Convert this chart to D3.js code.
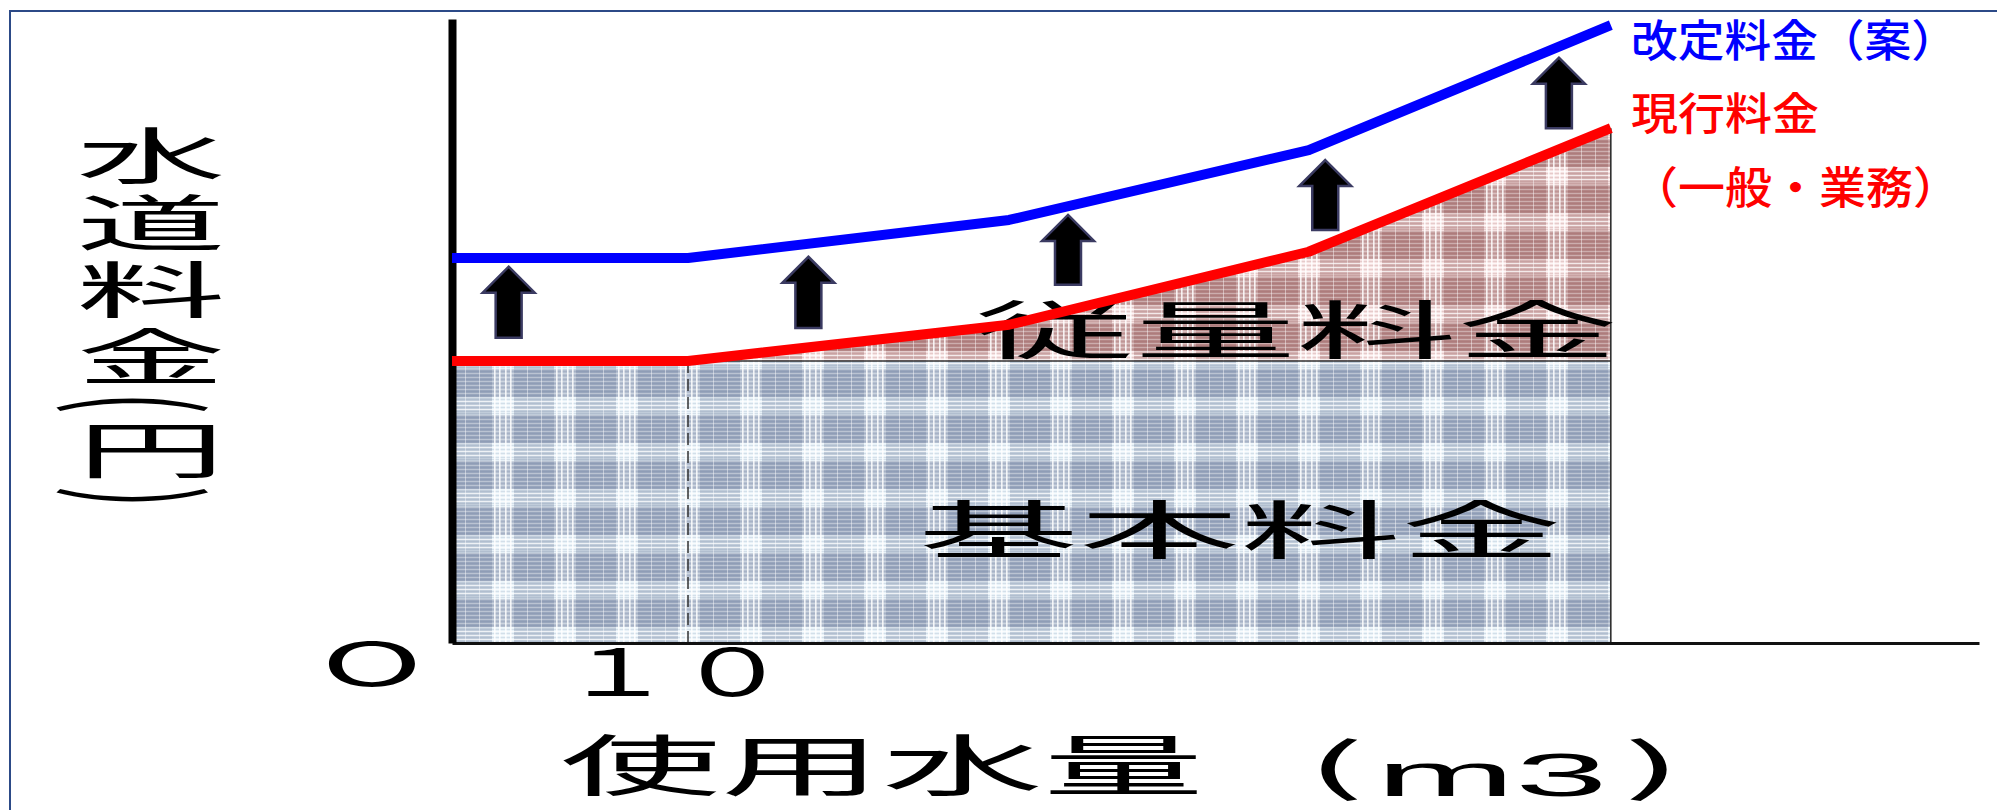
<!DOCTYPE html>
<html>
<head>
<meta charset="utf-8">
<script src="https://cdn.jsdelivr.net/npm/d3@7"></script>
<style>
  html, body { margin: 0; padding: 0; background: #fff; }
  svg { display: block; font-family: "Noto Sans CJK JP", "Noto Sans", sans-serif; }
</style>
</head>
<body>
<div id="chart"></div>
<script>
// break points of the tariff (usage in m3, charge in arbitrary yen units)
const usage = [0, 10, 23.6, 36.3, 49.1];
const currentFee = [452, 452, 510, 627, 825];
const proposedFee = [617, 617, 678, 790, 990];
const basicFee = 452;
const basicUsage = 10;

// the up-arrows between the two lines
const arrowUsage = [2.4, 15.1, 26.1, 37.0, 46.9];
const arrowFrom = [489, 505, 574, 662, 825];
const arrowTo = [603, 619, 686, 774, 938];

const xTickValues = [0, 10];
const xTickLabels = ["O", "１０"];
const yTitle = "水道料金(円)";
const xTitle = "使用水量";
const xUnit = ["(", "m3", ")"];
const seriesNames = ["改定料金（案）", "現行料金", "（一般・業務）"];
const areaLabels = ["従量料金", "基本料金"];

const width = 1997, height = 810;

const x = d3.scaleLinear().domain([0, 64.7]).range([452, 1979]);
const y = d3.scaleLinear().domain([0, 1000]).range([643, 19]);

const svg = d3.select("#chart").append("svg")
  .attr("width", width)
  .attr("height", height);

// frame
svg.append("rect")
  .attr("x", 10).attr("y", 11)
  .attr("width", width + 20).attr("height", height + 20)
  .attr("fill", "#fff")
  .attr("stroke", "#2c4a87")
  .attr("stroke-width", 2);

const defs = svg.append("defs");

function plaid(id, base, band, k) {
  const w = 62, h = 46;
  const p = defs.append("pattern")
    .attr("id", id)
    .attr("patternUnits", "userSpaceOnUse")
    .attr("width", w).attr("height", h)
    .attr("x", x(0)).attr("y", y(0));
  p.append("rect").attr("width", w).attr("height", h).attr("fill", base);
  p.append("rect").attr("width", 40).attr("height", h).attr("fill", band).attr("opacity", 0.26 * k);
  p.append("rect").attr("y", 2).attr("width", w).attr("height", 28).attr("fill", band).attr("opacity", 0.34 * k);
  d3.range(0, h, 2).forEach(v => {
    p.append("rect").attr("y", v).attr("width", w).attr("height", 0.8)
      .attr("fill", v % 4 ? "#fff" : band).attr("opacity", v % 4 ? 0.4 : 0.16 * k);
  });
  [34, 38, 42].forEach(v => {
    p.append("rect").attr("y", v).attr("width", w).attr("height", 1).attr("fill", "#fff").attr("opacity", 0.6);
  });
  [42, 47, 53, 58].forEach(v => {
    p.append("rect").attr("x", v).attr("width", 1.6).attr("height", h).attr("fill", "#fff").attr("opacity", 0.85);
  });
  [13, 27].forEach(v => {
    p.append("rect").attr("x", v).attr("width", 1).attr("height", h).attr("fill", "#fff").attr("opacity", 0.45);
  });
}
plaid("plaidBlue", "#e8f2f8", "#4e5f84", 1);
plaid("plaidPink", "#f6e2e2", "#7e3c3c", 1.1);

const pts = usage.map((u, i) => ({ u, cur: currentFee[i], pro: proposedFee[i] }));
const lastU = usage[usage.length - 1];

// basic charge block
svg.append("rect")
  .attr("x", x(0))
  .attr("y", y(basicFee))
  .attr("width", x(lastU) - x(0))
  .attr("height", y(0) - y(basicFee))
  .attr("fill", "url(#plaidBlue)");

// volume charge area
svg.append("path")
  .datum(pts)
  .attr("fill", "url(#plaidPink)")
  .attr("d", d3.area().x(d => x(d.u)).y0(y(basicFee)).y1(d => y(d.cur)));

// outlines of the blocks
svg.append("line")
  .attr("x1", x(0)).attr("x2", x(lastU))
  .attr("y1", y(basicFee)).attr("y2", y(basicFee))
  .attr("stroke", "#333").attr("stroke-width", 1.5);
svg.append("line")
  .attr("x1", x(lastU)).attr("x2", x(lastU))
  .attr("y1", y(currentFee[currentFee.length - 1])).attr("y2", y(0))
  .attr("stroke", "#222").attr("stroke-width", 1.5);
svg.append("line")
  .attr("x1", x(basicUsage)).attr("x2", x(basicUsage))
  .attr("y1", y(basicFee)).attr("y2", y(0))
  .attr("stroke", "#333").attr("stroke-width", 1.5)
  .attr("stroke-dasharray", "12,6");

// axes
const xAxis = svg.append("g")
  .attr("transform", `translate(0,${y(0)})`)
  .call(d3.axisBottom(x).tickValues([]).tickSizeOuter(0));
xAxis.select(".domain").attr("stroke", "#111").attr("stroke-width", 3);

const yAxis = svg.append("g")
  .attr("transform", `translate(${x(0)},0)`)
  .call(d3.axisLeft(y).tickValues([]).tickSizeOuter(0));
yAxis.select(".domain").attr("stroke", "#000").attr("stroke-width", 8);

// stretched text helper
function stretchText(str, o) {
  return svg.append("text")
    .attr("x", o.x).attr("y", o.y)
    .attr("font-size", o.size)
    .attr("font-weight", o.weight || 400)
    .attr("font-family", o.family || null)
    .attr("text-anchor", o.anchor || "middle")
    .attr("textLength", o.len)
    .attr("lengthAdjust", "spacingAndGlyphs")
    .attr("fill", o.fill || "#000")
    .text(str);
}

// area labels
stretchText(areaLabels[0], { x: 1296, y: 353, size: 63, len: 644 });
stretchText(areaLabels[1], { x: 1240, y: 553, size: 63, len: 644 });

// lines
const line = key => d3.line().x(d => x(d.u)).y(d => y(d[key]));
svg.append("path")
  .datum(pts)
  .attr("fill", "none")
  .attr("stroke", "#ff0000")
  .attr("stroke-width", 10)
  .attr("stroke-linejoin", "round")
  .attr("d", line("cur"));
svg.append("path")
  .datum(pts)
  .attr("fill", "none")
  .attr("stroke", "#0000ff")
  .attr("stroke-width", 10)
  .attr("stroke-linejoin", "round")
  .attr("d", line("pro"));

// arrows
const arrows = arrowUsage.map((u, i) => ({ u, from: arrowFrom[i], to: arrowTo[i] }));
svg.append("g").selectAll("path")
  .data(arrows)
  .join("path")
  .attr("fill", "#000")
  .attr("stroke", "#3b3b62")
  .attr("stroke-width", 2.5)
  .attr("d", d => {
    const cx = x(d.u), top = y(d.to), bot = y(d.from);
    const hw = 26, sw = 13, hh = 26;
    return `M${cx},${top}L${cx + hw},${top + hh}L${cx + sw},${top + hh}L${cx + sw},${bot}` +
      `L${cx - sw},${bot}L${cx - sw},${top + hh}L${cx - hw},${top + hh}Z`;
  });

// x tick labels
stretchText(xTickLabels[0], { x: x(xTickValues[0]) - 80, y: 686, size: 60, len: 102 });
stretchText(xTickLabels[1], { x: x(xTickValues[1]) - 13, y: 696, size: 65, len: 230 });

// x title
stretchText(xTitle, { x: 882, y: 790, size: 66, len: 644 });
stretchText(xUnit[0], { x: 1335, y: 789, size: 62, len: 60 });
stretchText(xUnit[1], { x: 1492, y: 796, size: 62, len: 232, family: "Liberation Sans, sans-serif" });
stretchText(xUnit[2], { x: 1653, y: 789, size: 62, len: 60 });

// y title, written vertically and stretched sideways
svg.append("text")
  .attr("transform", "translate(151,0) scale(2.45,1)")
  .attr("x", 0)
  .attr("y", 125)
  .attr("writing-mode", "vertical-rl")
  .attr("font-size", 61)
  .attr("letter-spacing", 6)
  .attr("fill", "#000")
  .text(yTitle);

// series labels
const legendColors = ["#0000ff", "#ff0000", "#ff0000"];
const legendBase = [57, 130, 204];
const legendLen = [327, 188, 329];
seriesNames.forEach((s, i) => {
  stretchText(s, { x: 1631, y: legendBase[i], size: 44, len: legendLen[i], anchor: "start", fill: legendColors[i], weight: 500 });
});
</script>
</body>
</html>
